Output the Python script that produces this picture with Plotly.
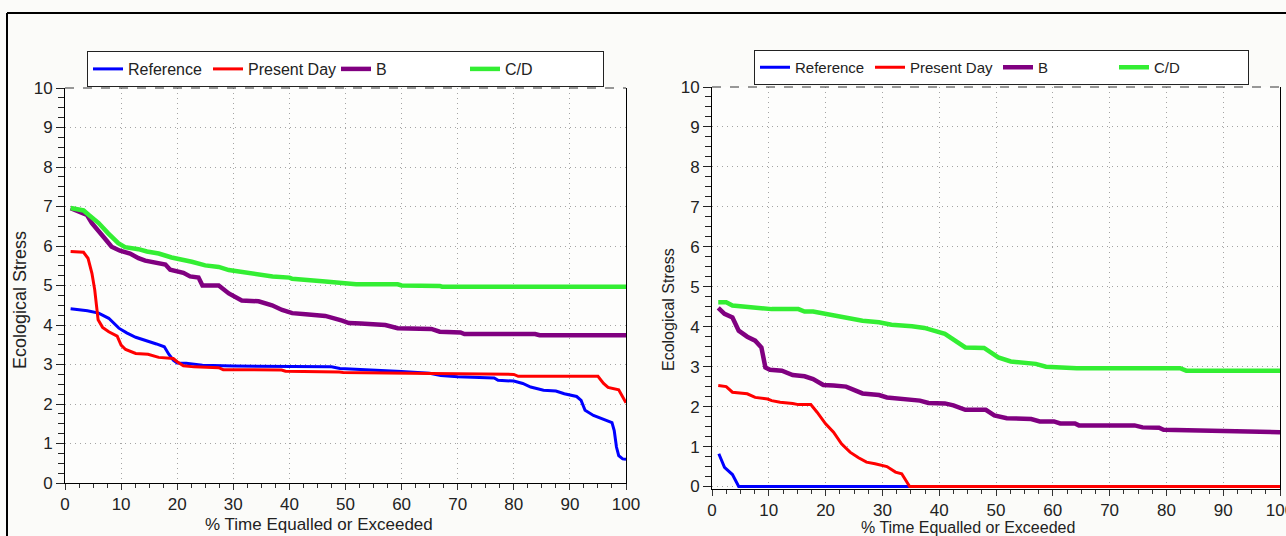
import plotly.graph_objects as go

# ---------------- data ----------------
series_names = ["Reference", "Present Day", "B", "C/D"]

# Left panel
left_ref_x = [1, 4, 6, 7.8, 9.6, 11, 12.6, 14.8, 16.3, 17.7, 18.5, 19.3, 20, 21.6, 24.5, 30, 47.5, 49, 53.5,
              60, 65, 67, 70, 76.5, 77.2, 80, 81.6, 83, 85.3, 87.5, 89, 91.2, 92, 92.7, 94.2, 95.7, 97.5,
              97.9, 98.3, 98.7, 99.4, 100]
left_ref_y = [4.41, 4.36, 4.3, 4.17, 3.92, 3.8, 3.69, 3.6, 3.52, 3.45, 3.26, 3.11, 3.04, 3.03, 2.98, 2.96,
              2.94, 2.9, 2.86, 2.82, 2.78, 2.72, 2.69, 2.66, 2.6, 2.58, 2.52, 2.43, 2.35, 2.33, 2.26, 2.19,
              2.09, 1.84, 1.71, 1.63, 1.53, 1.33, 0.91, 0.69, 0.61, 0.6]

left_pd_x = [1, 3.3, 4.1, 4.8, 5.3, 5.6, 5.9, 6.7, 7.8, 9.3, 10, 10.8, 12.6, 14.8, 16.7, 19.3, 20, 21.1,
             23, 27.4, 28.2, 38.6, 39.3, 48.9, 49.6, 65.3, 80, 80.8, 95, 96, 96.8, 98.7, 99.4, 100]
left_pd_y = [5.86, 5.84, 5.69, 5.31, 4.89, 4.47, 4.13, 3.94, 3.83, 3.72, 3.49, 3.38, 3.28, 3.26, 3.18,
             3.15, 3.07, 2.97, 2.94, 2.92, 2.87, 2.86, 2.83, 2.81, 2.8, 2.77, 2.75, 2.7, 2.7, 2.52, 2.42,
             2.36, 2.18, 2.03]

left_b_x = [1, 3, 3.9, 4.8, 5.7, 7.1, 8.3, 9.8, 11.6, 13.1, 14.3, 16.7, 17.9, 18.75, 19.6, 21.1, 22.3,
            23.8, 24.5, 27.4, 29.2, 31.5, 34.5, 36.9, 38.7, 40.5, 42.9, 46.4, 49.4, 50.6, 52.7, 57.1,
            59.3, 65.3, 66.8, 70.5, 71.2, 83.8, 84.6, 100]
left_b_y = [6.96, 6.85, 6.79, 6.58, 6.41, 6.19, 5.98, 5.88, 5.81, 5.69, 5.63, 5.56, 5.53, 5.4, 5.37,
            5.32, 5.23, 5.2, 5.0, 5.0, 4.8, 4.62, 4.6, 4.5, 4.38, 4.3, 4.27, 4.23, 4.11, 4.05, 4.04, 4.0,
            3.92, 3.9, 3.83, 3.81, 3.77, 3.77, 3.74, 3.74]

left_cd_x = [1, 3.3, 4.2, 6, 7.7, 9.5, 10.7, 13.1, 14.6, 16.7, 19, 20.8, 22.6, 25, 27.4, 29.2, 32.1,
             34.5, 37, 40, 40.5, 46.4, 50, 51.9, 59.3, 60, 66.8, 67.2, 100]
left_cd_y = [6.96, 6.9, 6.79, 6.58, 6.32, 6.07, 5.97, 5.92, 5.86, 5.81, 5.71, 5.66, 5.6, 5.51, 5.47,
             5.39, 5.32, 5.28, 5.23, 5.2, 5.17, 5.1, 5.07, 5.03, 5.03, 5.0, 4.99, 4.97, 4.97]

# Right panel
right_ref_x = [1.2, 2.2, 3.6, 4.7, 35, 100]
right_ref_y = [0.82, 0.48, 0.3, 0.0, 0.0, 0.0]

right_pd_x = [1.1, 2.5, 3.6, 6.2, 7.6, 9.8, 10.5, 12, 14.2, 15.2, 17.4, 18.5, 20, 21.4, 22.8, 24.3,
              25.8, 27.2, 28.7, 30.8, 32.3, 33.4, 34.8, 100]
right_pd_y = [2.53, 2.5, 2.36, 2.32, 2.23, 2.19, 2.15, 2.11, 2.08, 2.05, 2.05, 1.86, 1.57, 1.36, 1.07,
              0.86, 0.72, 0.61, 0.57, 0.5, 0.36, 0.32, 0.0, 0.0]

right_b_x = [1.1, 2.2, 3.6, 4.7, 6.2, 7.6, 8.7, 9.4, 10.2, 12.3, 14.2, 16.3, 17.8, 19.6, 21.4, 23.6,
             26.5, 29.4, 30.8, 34.5, 36.6, 38.1, 41, 42.5, 44.6, 48.2, 49.7, 51.9, 56.2, 57.7, 60.2,
             61.3, 63.9, 64.6, 74.4, 75.8, 78.7, 79.5, 86, 91.1, 100]
right_b_y = [4.47, 4.32, 4.23, 3.9, 3.75, 3.65, 3.48, 2.98, 2.92, 2.9, 2.79, 2.76, 2.69, 2.54, 2.53,
             2.5, 2.33, 2.29, 2.23, 2.19, 2.15, 2.09, 2.08, 2.03, 1.92, 1.92, 1.78, 1.71, 1.69, 1.63,
             1.63, 1.58, 1.58, 1.53, 1.53, 1.48, 1.47, 1.42, 1.4, 1.36, 1.36]

right_cd_x = [1.1, 2.5, 3.6, 9.1, 10.5, 15.2, 16.3, 17.8, 20, 23.6, 26.5, 29.4, 31.6, 35.2, 37.4, 41,
              43.2, 44.6, 47.9, 50.4, 52.6, 57, 58.8, 63.9, 64.2, 82.4, 83.5, 100]
right_cd_y = [4.61, 4.61, 4.53, 4.48, 4.44, 4.44, 4.38, 4.38, 4.32, 4.25, 4.15, 4.11, 4.05, 4.01,
              3.97, 3.82, 3.63, 3.48, 3.47, 3.23, 3.13, 3.07, 3.0, 2.98, 2.96, 2.96, 2.9, 2.9]

x_tick_vals = [0, 10, 20, 30, 40, 50, 60, 70, 80, 90, 100]
y_tick_vals = [0, 1, 2, 3, 4, 5, 6, 7, 8, 9, 10]
x_title = "% Time Equalled or Exceeded"
y_title = "Ecological Stress"

# ---------------- styling ----------------
colors = ["#0000ff", "#ff0000", "#800080", "#33ee33"]
widths = [3, 3, 4.5, 4.5]
FONT = "Liberation Sans, Arial, sans-serif"
TICKFONT = "Liberation Sans Narrow, Arial Narrow, Liberation Sans, Arial, sans-serif"
W, H = 1286, 536

left_legend_w = [75, 83, 84, 93]
right_legend_w = [70, 83, 71, 89]

fig = go.Figure()

left_data = [(left_ref_x, left_ref_y), (left_pd_x, left_pd_y), (left_b_x, left_b_y), (left_cd_x, left_cd_y)]
right_data = [(right_ref_x, right_ref_y), (right_pd_x, right_pd_y), (right_b_x, right_b_y), (right_cd_x, right_cd_y)]

for i, (xs, ys) in enumerate(left_data):
    fig.add_trace(go.Scatter(x=xs, y=ys, mode="lines", name=series_names[i],
                             line=dict(color=colors[i], width=widths[i]),
                             xaxis="x", yaxis="y", legend="legend",
                             legendwidth=left_legend_w[i]))
for i, (xs, ys) in enumerate(right_data):
    fig.add_trace(go.Scatter(x=xs, y=ys, mode="lines", name=series_names[i],
                             line=dict(color=colors[i], width=widths[i]),
                             xaxis="x2", yaxis="y2", legend="legend2",
                             legendwidth=right_legend_w[i]))


def px_x(p):
    return p / W


def px_y(p):
    return (H - p) / H


GRID = dict(showgrid=True, gridcolor="#a4a4a4", griddash="1px,4px", gridwidth=1)
common_x = dict(range=[0, 100], tickvals=x_tick_vals, ticks="outside", ticklen=6, tickwidth=1,
                tickcolor="#333333", showline=True, linecolor="#000000", linewidth=1,
                zeroline=False, automargin=False, ticklabeloverflow="allow",
                tickfont=dict(family=TICKFONT, size=17, color="#222222"),
                minor=dict(dtick=2.5, ticks="outside", ticklen=4, tickcolor="#333333", showgrid=False),
                **GRID)
common_y = dict(tickvals=y_tick_vals, ticks="outside", ticklen=8, tickwidth=1,
                tickcolor="#222222", showline=True, linecolor="#000000", linewidth=1, mirror=True,
                zeroline=False, automargin=False,
                tickfont=dict(family=TICKFONT, size=17, color="#222222"),
                minor=dict(dtick=0.25, ticks="outside", ticklen=6, tickcolor="#222222", showgrid=False),
                **GRID)

fig.update_layout(
    width=W, height=H,
    margin=dict(l=0, r=0, t=0, b=0, autoexpand=False),
    paper_bgcolor="#fbfbf9",
    plot_bgcolor="#fdfdfc",
    xaxis=dict(domain=[px_x(65), px_x(626)], anchor="y", **common_x),
    yaxis=dict(domain=[px_y(483), px_y(88)], anchor="x", range=[0, 10], **common_y),
    xaxis2=dict(domain=[px_x(712), px_x(1280)], anchor="y2", **common_x),
    yaxis2=dict(domain=[px_y(488.5), px_y(87)], anchor="x2", range=[-0.05, 10], **common_y),
    legend=dict(orientation="h", x=px_x(87), y=px_y(51), xanchor="left", yanchor="top",
                bgcolor="#ffffff", bordercolor="#222222", borderwidth=1,
                font=dict(family=FONT, size=16, color="#222222"), itemwidth=30),
    legend2=dict(orientation="h", x=px_x(754), y=px_y(50), xanchor="left", yanchor="top",
                 bgcolor="#ffffff", bordercolor="#222222", borderwidth=1,
                 font=dict(family=FONT, size=15, color="#222222"), itemwidth=30),
    showlegend=True,
)

# dashed top border of each plot area
for xr, yr in (("x domain", "y domain"), ("x2 domain", "y2 domain")):
    fig.add_shape(type="line", xref=xr, yref=yr, x0=0, x1=1, y0=1, y1=1,
                  line=dict(color="#333333", width=1, dash="dash"))

# outer black frame (top and left edges)
fig.add_shape(type="line", xref="paper", yref="paper", x0=px_x(7), x1=1.0, y0=px_y(13), y1=px_y(13),
              line=dict(color="#000000", width=2))
fig.add_shape(type="line", xref="paper", yref="paper", x0=px_x(7), x1=px_x(7), y0=0, y1=px_y(13),
              line=dict(color="#000000", width=2))

# axis titles
fig.add_annotation(text=x_title, xref="paper", yref="paper", x=px_x(319), y=px_y(524),
                   showarrow=False, font=dict(family=FONT, size=17, color="#222222"),
                   xanchor="center", yanchor="middle")
fig.add_annotation(text=x_title, xref="paper", yref="paper", x=px_x(968), y=px_y(527),
                   showarrow=False, font=dict(family=FONT, size=16, color="#222222"),
                   xanchor="center", yanchor="middle")
fig.add_annotation(text=y_title, xref="paper", yref="paper", x=px_x(20), y=px_y(300),
                   showarrow=False, font=dict(family=FONT, size=18, color="#222222"), textangle=-90,
                   xanchor="center", yanchor="middle")
fig.add_annotation(text=y_title, xref="paper", yref="paper", x=px_x(668), y=px_y(310),
                   showarrow=False, font=dict(family=FONT, size=16, color="#222222"), textangle=-90,
                   xanchor="center", yanchor="middle")

fig.write_html("out.html")
